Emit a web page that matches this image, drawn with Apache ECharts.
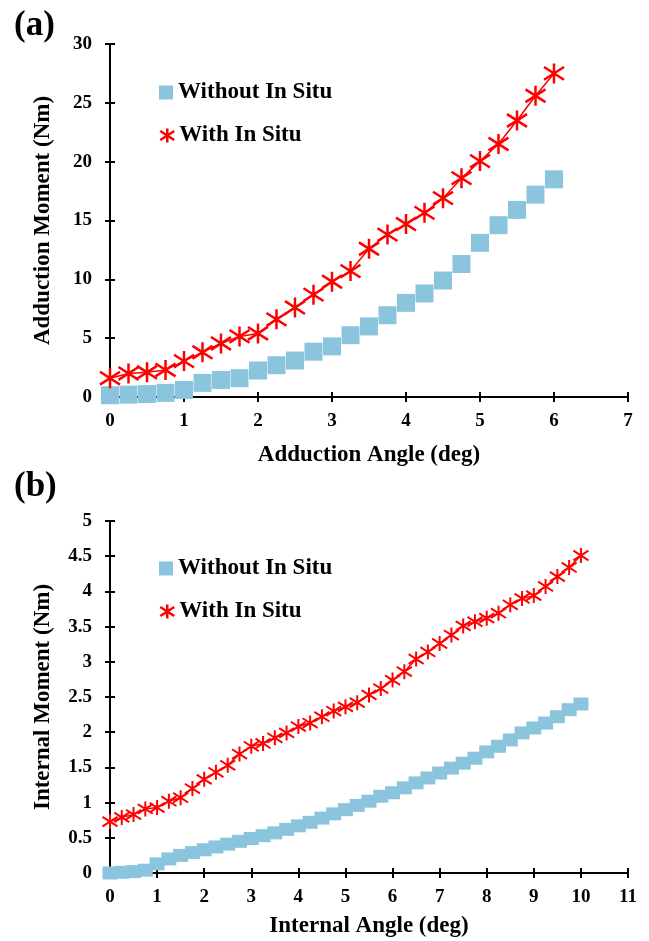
<!DOCTYPE html>
<html>
<head>
<meta charset="utf-8">
<script src="https://cdn.jsdelivr.net/npm/echarts@6/dist/echarts.min.js"></script>
<style>
  html, body { margin: 0; padding: 0; background: #fff; }
  #chart { width: 649px; height: 941px; }
</style>
</head>
<body>
<div id="chart"></div>
<script>
// (a) 内收角度 / 力矩
const addAngle = [0, 0.25, 0.5, 0.75, 1, 1.25, 1.5, 1.75, 2, 2.25, 2.5, 2.75, 3,
  3.25, 3.5, 3.75, 4, 4.25, 4.5, 4.75, 5, 5.25, 5.5, 5.75, 6];
const addWithout = [0.15, 0.2, 0.25, 0.35, 0.6, 1.2, 1.45, 1.6, 2.25, 2.7, 3.1, 3.85, 4.3,
  5.25, 6.0, 6.95, 8.0, 8.8, 9.9, 11.3, 13.1, 14.6, 15.9, 17.2, 18.5];
const addWith = [1.6, 2.0, 2.1, 2.3, 3.05, 3.8, 4.55, 5.15, 5.4, 6.6, 7.6, 8.7, 9.8,
  10.7, 12.6, 13.8, 14.7, 15.65, 16.9, 18.6, 20.05, 21.5, 23.5, 25.6, 27.5];

// (b) 内旋角度 / 力矩
const intAngle = [0, 0.25, 0.5, 0.75, 1, 1.25, 1.5, 1.75, 2, 2.25, 2.5, 2.75, 3, 3.25,
  3.5, 3.75, 4, 4.25, 4.5, 4.75, 5, 5.25, 5.5, 5.75, 6, 6.25, 6.5, 6.75, 7, 7.25, 7.5,
  7.75, 8, 8.25, 8.5, 8.75, 9, 9.25, 9.5, 9.75, 10];
const intWithout = [0, 0.01, 0.02, 0.04, 0.13, 0.2, 0.25, 0.29, 0.33, 0.37, 0.41, 0.45,
  0.49, 0.53, 0.57, 0.62, 0.67, 0.72, 0.78, 0.84, 0.9, 0.96, 1.02, 1.09, 1.14, 1.21,
  1.28, 1.35, 1.42, 1.49, 1.56, 1.63, 1.72, 1.8, 1.89, 1.99, 2.06, 2.13, 2.22, 2.32, 2.4];
const intWith = [0.73, 0.79, 0.83, 0.91, 0.93, 1.02, 1.07, 1.2, 1.33, 1.43, 1.53, 1.69,
  1.8, 1.84, 1.92, 1.99, 2.08, 2.13, 2.22, 2.3, 2.36, 2.42, 2.53, 2.62, 2.74, 2.86,
  3.04, 3.14, 3.26, 3.38, 3.51, 3.57, 3.62, 3.69, 3.81, 3.9, 3.94, 4.07, 4.21, 4.34, 4.51];

const seriesNames = ["Without In Situ", "With In Situ"];

const BLUE = "#8BC5DD";
const RED = "#FF0000";
const FONT = "Liberation Serif";
// 星号标记 (Excel 风格 *)
const STAR = "path://M5,0L5,10M0,1.8L10,8.2M0,8.2L10,1.8";

const labelStyle = { fontFamily: FONT, fontWeight: "bold", fontSize: 19, color: "#000" };
const nameStyle = { fontFamily: FONT, fontWeight: "bold", fontSize: 23, color: "#000" };
const lineStyle = { color: "#000", width: 2 };

function pairs(xs, ys) {
  return xs.map((x, i) => [x, ys[i]]);
}

// 主坐标轴 (外侧刻度)
function mainX(gridIndex, max, name, gap) {
  return {
    type: "value", gridIndex, min: 0, max, interval: 1, position: "bottom",
    name, nameLocation: "middle", nameGap: gap, nameTextStyle: nameStyle,
    axisLine: { show: true, onZero: false, lineStyle },
    axisTick: { show: true, length: 5, lineStyle },
    axisLabel: Object.assign({ margin: 15 }, labelStyle),
    splitLine: { show: false },
  };
}
function mainY(gridIndex, max, interval, name) {
  return {
    type: "value", gridIndex, min: 0, max, interval, position: "left",
    name, nameLocation: "middle", nameGap: 55, nameTextStyle: nameStyle,
    axisLine: { show: true, onZero: false, lineStyle },
    axisTick: { show: true, length: 5, lineStyle },
    axisLabel: Object.assign({ margin: 18 }, labelStyle),
    splitLine: { show: false },
  };
}
// 辅助坐标轴, 只画内侧刻度, 让刻度穿过轴线
function tickX(gridIndex, max, offset) {
  return {
    type: "value", gridIndex, min: 0, max, interval: 1, position: "top", offset,
    axisLine: { show: false, onZero: false },
    axisTick: { show: true, length: 5, lineStyle },
    axisLabel: { show: false },
    splitLine: { show: false },
  };
}
function tickY(gridIndex, max, interval, offset) {
  return {
    type: "value", gridIndex, min: 0, max, interval, position: "right", offset,
    axisLine: { show: false, onZero: false },
    axisTick: { show: true, length: 5, lineStyle },
    axisLabel: { show: false },
    splitLine: { show: false },
  };
}

function squareSeries(xi, yi, data, size) {
  return {
    name: seriesNames[0], type: "scatter", xAxisIndex: xi, yAxisIndex: yi,
    data, symbol: "rect", symbolSize: size, clip: false,
    itemStyle: { color: BLUE, opacity: 1 },
  };
}
function starSeries(xi, yi, data, size, bw) {
  return {
    name: seriesNames[1], type: "line", xAxisIndex: xi, yAxisIndex: yi,
    data, symbol: STAR, symbolSize: size, showSymbol: true, clip: false,
    color: RED,
    lineStyle: { color: RED, width: 1.5 },
    itemStyle: { color: "transparent", borderColor: RED, borderWidth: bw },
  };
}
function legend(left, top, idx) {
  const item = idx === 0
    ? { name: seriesNames[0], icon: "rect", itemStyle: { color: BLUE } }
    : { name: seriesNames[1], icon: STAR, itemStyle: { color: "transparent", borderColor: RED, borderWidth: 2.5 } };
  return {
    left, top, orient: "vertical", itemWidth: 14, itemHeight: 14,
    data: [item], selectedMode: false,
    textStyle: { fontFamily: FONT, fontWeight: "bold", fontSize: 23, color: "#000" },
  };
}

const chart = echarts.init(document.getElementById("chart"));
chart.setOption({
  backgroundColor: "#fff",
  animation: false,
  grid: [
    { left: 110, top: 44, width: 518, height: 353 },
    { left: 110, top: 521, width: 518, height: 352 },
  ],
  xAxis: [
    mainX(0, 7, "Adduction Angle (deg)", 47),
    tickX(0, 7, -353),
    mainX(1, 11, "Internal Angle (deg)", 42),
    tickX(1, 11, -352),
  ],
  yAxis: [
    mainY(0, 30, 5, "Adduction Moment (Nm)"),
    tickY(0, 30, 5, -518),
    mainY(1, 5, 0.5, "Internal Moment (Nm)"),
    tickY(1, 5, 0.5, -518),
  ],
  legend: [
    legend(154, 76, 0),
    legend(154, 119, 1),
    legend(154, 552, 0),
    legend(154, 595, 1),
  ],
  graphic: [
    { type: "text", left: 14, top: 8, style: { text: "(a)", font: "bold 35px 'Liberation Serif'", fill: "#000" } },
    { type: "text", left: 14, top: 469, style: { text: "(b)", font: "bold 35px 'Liberation Serif'", fill: "#000" } },
  ],
  series: [
    squareSeries(0, 0, pairs(addAngle, addWithout), 18),
    starSeries(0, 0, pairs(addAngle, addWith), 20, 2.5),
    squareSeries(2, 2, pairs(intAngle, intWithout), [15, 13]),
    starSeries(2, 2, pairs(intAngle, intWith), 15, 2),
  ],
});
</script>
</body>
</html>
